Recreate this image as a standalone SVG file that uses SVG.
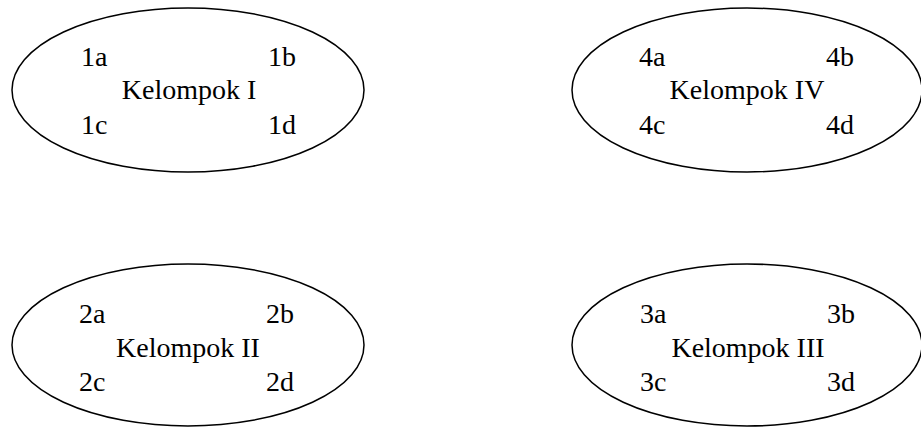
<svg xmlns="http://www.w3.org/2000/svg" width="921" height="428" viewBox="0 0 921 428">
  <style>
    .grp { fill: #ffffff; stroke: #000000; stroke-width: 1.5; }
    .t { font-family: "Liberation Serif", "Times New Roman", serif; font-size: 28px; fill: #000000; }
    .mid { text-anchor: middle; }
  </style>
  <rect width="921" height="428" fill="#ffffff"/>
  <g id="kelompok-1">
    <ellipse class="grp" cx="188" cy="90" rx="176" ry="82"/>
    <text class="t" x="81" y="66">1a</text>
    <text class="t" x="268" y="66">1b</text>
    <text class="t mid" x="189" y="99">Kelompok I</text>
    <text class="t" x="81" y="134">1c</text>
    <text class="t" x="268" y="134">1d</text>
  </g>
  <g id="kelompok-4">
    <ellipse class="grp" cx="747" cy="90" rx="175" ry="82"/>
    <text class="t" x="639" y="66">4a</text>
    <text class="t" x="826" y="66">4b</text>
    <text class="t mid" x="747" y="99">Kelompok IV</text>
    <text class="t" x="639" y="134">4c</text>
    <text class="t" x="826" y="134">4d</text>
  </g>
  <g id="kelompok-2">
    <ellipse class="grp" cx="188" cy="345" rx="176" ry="81"/>
    <text class="t" x="79" y="323">2a</text>
    <text class="t" x="266" y="323">2b</text>
    <text class="t mid" x="188" y="357">Kelompok II</text>
    <text class="t" x="79" y="391">2c</text>
    <text class="t" x="266" y="391">2d</text>
  </g>
  <g id="kelompok-3">
    <ellipse class="grp" cx="747" cy="345" rx="175" ry="81"/>
    <text class="t" x="640" y="323">3a</text>
    <text class="t" x="827" y="323">3b</text>
    <text class="t mid" x="748" y="357">Kelompok III</text>
    <text class="t" x="640" y="391">3c</text>
    <text class="t" x="827" y="391">3d</text>
  </g>
  <g id="connectors"/>
</svg>
